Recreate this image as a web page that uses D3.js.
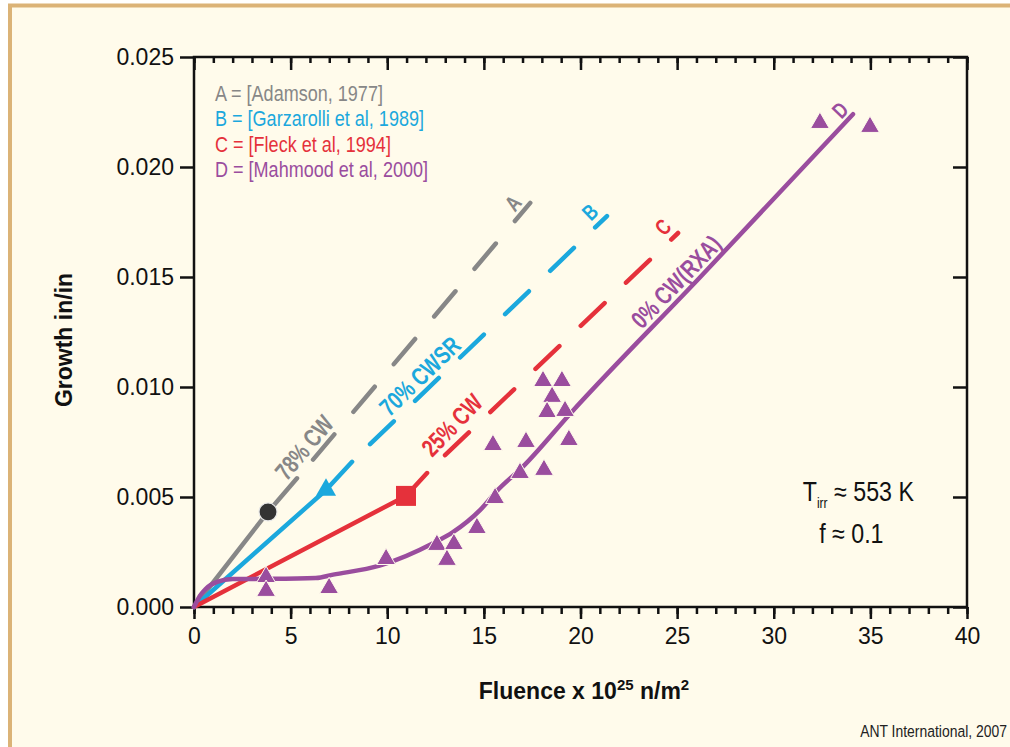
<!DOCTYPE html>
<html>
<head>
<meta charset="utf-8">
<script src="https://cdn.jsdelivr.net/npm/d3@7"></script>
<style>
  body { margin: 0; background: #fff; overflow: hidden; }
  svg { display: block; }
  text { font-family: "Liberation Sans", Arial, sans-serif; }
  .axis text { font-size: 23px; fill: #111; }
  .axis line { stroke: #111; stroke-width: 2.5; }
</style>
</head>
<body>
<div id="chart"></div>
<script>
// tick values
const xTicks = [0, 5, 10, 15, 20, 25, 30, 35, 40];
const xMinorTicks = d3.range(0, 41, 1);
const yTicks = [0, 0.005, 0.01, 0.015, 0.02, 0.025];

// series: A = Adamson, B = Garzarolli, C = Fleck, D = Mahmood
const seriesKeys = ["A", "B", "C", "D"];
const seriesColors = ["#878787", "#1ba8dd", "#e5313b", "#9a4d9e"];
const legendLabels = [
  "A = [Adamson, 1977]",
  "B = [Garzarolli et al, 1989]",
  "C = [Fleck et al, 1994]",
  "D = [Mahmood et al, 2000]"
];

// fitted lines (fluence, growth), solid part then dashed extrapolation
const adamsonSolid = [[0, 0], [3.83, 0.00432], [5.33, 0.00585]];
const adamsonDashed = [[6.16, 0.0067], [17.4, 0.01837]];
const garzarolliSolid = [[0, 0], [6.83, 0.00532], [8.18, 0.0066]];
const garzarolliDashed = [[9.11, 0.0074], [21.37, 0.01777]];
const fleckSolid = [[0, 0], [10.97, 0.00505], [12.06, 0.00609]];
const fleckDashed = [[12.99, 0.0069], [25.05, 0.017]];
const mahmoodCurve = [
  [0, 0], [0.3, 0.0005], [0.6, 0.00082], [1.2, 0.00114], [2, 0.00127],
  [3.6, 0.00128], [6.3, 0.00132], [7.2, 0.00147], [9.6, 0.00188],
  [12.4, 0.00291], [13.4, 0.0034], [14.8, 0.0044],
  [15.7, 0.0053], [17.0, 0.00636], [19.5, 0.00882], [26.2, 0.015],
  [34.1, 0.0224]
];

// measured points
const adamsonPoints = [[3.83, 0.00432]];
const garzarolliPoints = [[6.83, 0.00532]];
const fleckPoints = [[10.97, 0.00505]];
const mahmoodPoints = [
  [3.73, 0.00136], [3.73, 0.00073], [6.99, 0.00086], [9.94, 0.00218],
  [12.57, 0.00282], [13.45, 0.00286], [13.09, 0.00214], [14.64, 0.00359],
  [15.58, 0.00495], [15.47, 0.00736], [16.87, 0.00609], [17.18, 0.0075],
  [18.11, 0.00623], [18.06, 0.01027], [19.04, 0.01027], [18.53, 0.00955],
  [18.27, 0.00886], [19.2, 0.00891], [19.4, 0.00759], [32.39, 0.022],
  [34.98, 0.02182]
];

// labels along the lines
const lineLabels = ["78% CW", "70% CWSR", "25% CW", "0% CW(RXA)"];
const lineLabelAt = [[5.7, 0.00725], [11.69, 0.0105], [13.35, 0.00827], [24.95, 0.01478]];
const lineAngles = [-50, -44, -46, -46];
const endLetterAt = [[16.5, 0.01836], [20.49, 0.01795], [24.27, 0.01727], [33.43, 0.02259]];

const config = {
  containerWidth: 1010,
  containerHeight: 747,
  margin: { top: 57, right: 43, bottom: 140, left: 194 },
  narrow: 0.82,     // horizontal squeeze standing in for a condensed face
  narrowBold: 0.76
};
const width = config.containerWidth - config.margin.left - config.margin.right;
const height = config.containerHeight - config.margin.top - config.margin.bottom;

const svg = d3.select("#chart").append("svg")
  .attr("width", config.containerWidth)
  .attr("height", config.containerHeight);

// panel background with tan border on left and top (right/bottom run off the page)
svg.append("rect")
  .attr("x", 10).attr("y", 5.5)
  .attr("width", config.containerWidth).attr("height", config.containerHeight)
  .attr("fill", "#fffbeb");
svg.append("path")
  .attr("d", `M10,${config.containerHeight} V5.5 H${config.containerWidth}`)
  .attr("fill", "none")
  .attr("stroke", "#dbb377")
  .attr("stroke-width", 4);

const chart = svg.append("g")
  .attr("transform", `translate(${config.margin.left},${config.margin.top})`);

const xScale = d3.scaleLinear().domain([0, 40]).range([0, width]);
const yScale = d3.scaleLinear().domain([0, 0.025]).range([height, 0]);

// axes: outward ticks left/bottom, inward ticks top/right
const noLabel = () => "";
chart.append("g").attr("class", "axis")
  .attr("transform", `translate(0,${height})`)
  .call(d3.axisBottom(xScale).tickValues(xMinorTicks).tickSize(7).tickFormat(noLabel));
chart.append("g").attr("class", "axis")
  .attr("transform", `translate(0,${height})`)
  .call(d3.axisBottom(xScale).tickValues(xTicks).tickSize(12).tickPadding(9).tickFormat(d3.format("d")));
chart.append("g").attr("class", "axis")
  .call(d3.axisBottom(xScale).tickValues(xMinorTicks).tickSize(6).tickFormat(noLabel));
chart.append("g").attr("class", "axis")
  .call(d3.axisBottom(xScale).tickValues(xTicks).tickSize(13).tickFormat(noLabel));
chart.append("g").attr("class", "axis")
  .call(d3.axisLeft(yScale).tickValues(yTicks).tickSize(14).tickPadding(6).tickFormat(d3.format(".3f")));
chart.append("g").attr("class", "axis")
  .attr("transform", `translate(${width},0)`)
  .call(d3.axisLeft(yScale).tickValues(yTicks).tickSize(14).tickFormat(noLabel));
chart.selectAll(".axis .domain").remove();

chart.append("rect")
  .attr("width", width).attr("height", height)
  .attr("fill", "none").attr("stroke", "#111").attr("stroke-width", 2.5);

// lines
const line = d3.line().x(d => xScale(d[0])).y(d => yScale(d[1]));
const solidParts = [adamsonSolid, garzarolliSolid, fleckSolid];
const dashedParts = [adamsonDashed, garzarolliDashed, fleckDashed];

const lineG = chart.append("g")
  .attr("fill", "none")
  .attr("stroke-width", 4.5)
  .attr("stroke-linecap", "round")
  .attr("stroke-linejoin", "round");

lineG.selectAll(".solid")
  .data(solidParts)
  .join("path")
  .attr("class", "solid")
  .attr("stroke", (d, i) => seriesColors[i])
  .attr("d", line);

lineG.selectAll(".dashed")
  .data(dashedParts)
  .join("path")
  .attr("class", "dashed")
  .attr("stroke", (d, i) => seriesColors[i])
  .attr("stroke-dasharray", "33,29.5")
  .attr("d", line);

lineG.append("path")
  .attr("stroke", seriesColors[3])
  .attr("d", line.curve(d3.curveMonotoneX)(mahmoodCurve));

// markers
const markerG = chart.append("g");
markerG.selectAll(".pt-a")
  .data(adamsonPoints)
  .join("circle")
  .attr("class", "pt-a")
  .attr("cx", d => xScale(d[0])).attr("cy", d => yScale(d[1]))
  .attr("r", 9)
  .attr("fill", "#333")
  .attr("stroke", "#e8e8e8").attr("stroke-width", 1.2);

const tri = d3.symbol().type(d3.symbolTriangle).size(155);
markerG.selectAll(".pt-b")
  .data(garzarolliPoints)
  .join("path")
  .attr("class", "pt-b")
  .attr("transform", d => `translate(${xScale(d[0])},${yScale(d[1])})`)
  .attr("d", d3.symbol().type(d3.symbolTriangle).size(175))
  .attr("fill", seriesColors[1]);

markerG.selectAll(".pt-c")
  .data(fleckPoints)
  .join("path")
  .attr("class", "pt-c")
  .attr("transform", d => `translate(${xScale(d[0])},${yScale(d[1])})`)
  .attr("d", d3.symbol().type(d3.symbolSquare).size(400))
  .attr("fill", seriesColors[2]);

markerG.selectAll(".pt-d")
  .data(mahmoodPoints)
  .join("path")
  .attr("class", "pt-d")
  .attr("transform", d => `translate(${xScale(d[0])},${yScale(d[1])})`)
  .attr("d", tri)
  .attr("fill", seriesColors[3])
  .attr("stroke", "#fffbeb").attr("stroke-width", 1);

// line labels
chart.selectAll(".line-label")
  .data(lineLabels)
  .join("text")
  .attr("class", "line-label")
  .attr("transform", (d, i) => `translate(${xScale(lineLabelAt[i][0])},${yScale(lineLabelAt[i][1])}) rotate(${lineAngles[i]}) scale(${config.narrowBold},1)`)
  .attr("text-anchor", "middle")
  .attr("dy", "0.35em")
  .style("font-size", "25px")
  .style("font-weight", "bold")
  .attr("fill", (d, i) => seriesColors[i])
  .text(d => d);

chart.selectAll(".end-letter")
  .data(seriesKeys)
  .join("text")
  .attr("class", "end-letter")
  .attr("transform", (d, i) => `translate(${xScale(endLetterAt[i][0])},${yScale(endLetterAt[i][1])}) rotate(${lineAngles[i]}) scale(${config.narrowBold},1)`)
  .attr("text-anchor", "middle")
  .attr("dy", "0.35em")
  .style("font-size", "22px")
  .style("font-weight", "bold")
  .attr("fill", (d, i) => seriesColors[i])
  .text(d => d);

// legend
chart.append("g")
  .attr("transform", `translate(21,44) scale(${config.narrow},1)`)
  .selectAll("text")
  .data(legendLabels)
  .join("text")
  .attr("y", (d, i) => i * 25.3)
  .style("font-size", "22px")
  .attr("fill", (d, i) => seriesColors[i])
  .text(d => d);

// conditions note
const note = chart.append("g")
  .style("font-size", "27px")
  .attr("fill", "#111");
const tLine = note.append("text")
  .attr("transform", `translate(${xScale(31.5)},${yScale(0.00482)}) scale(0.86,1)`);
tLine.append("tspan").text("T");
tLine.append("tspan").attr("dy", 7).style("font-size", "14px").text("irr");
tLine.append("tspan").attr("dy", -7).text(" \u2248 553 K");
note.append("text")
  .attr("transform", `translate(${xScale(32.35)},${yScale(0.00291)}) scale(0.86,1)`)
  .text("f \u2248 0.1");

// axis titles
svg.append("text")
  .attr("transform", "translate(72,340) rotate(-90)")
  .attr("text-anchor", "middle")
  .style("font-size", "23px")
  .style("font-weight", "bold")
  .attr("fill", "#111")
  .text("Growth in/in");

const xTitle = svg.append("text")
  .attr("x", 584).attr("y", 699)
  .attr("text-anchor", "middle")
  .style("font-size", "23px")
  .style("font-weight", "bold")
  .attr("fill", "#111");
xTitle.append("tspan").text("Fluence x 10");
xTitle.append("tspan").attr("dy", -9).style("font-size", "15px").text("25");
xTitle.append("tspan").attr("dy", 9).text(" n/m");
xTitle.append("tspan").attr("dy", -9).style("font-size", "15px").text("2");

svg.append("text")
  .attr("transform", `translate(1007,737) scale(${config.narrow},1)`)
  .attr("text-anchor", "end")
  .style("font-size", "17px")
  .attr("fill", "#222")
  .text("ANT International, 2007");
</script>
</body>
</html>
